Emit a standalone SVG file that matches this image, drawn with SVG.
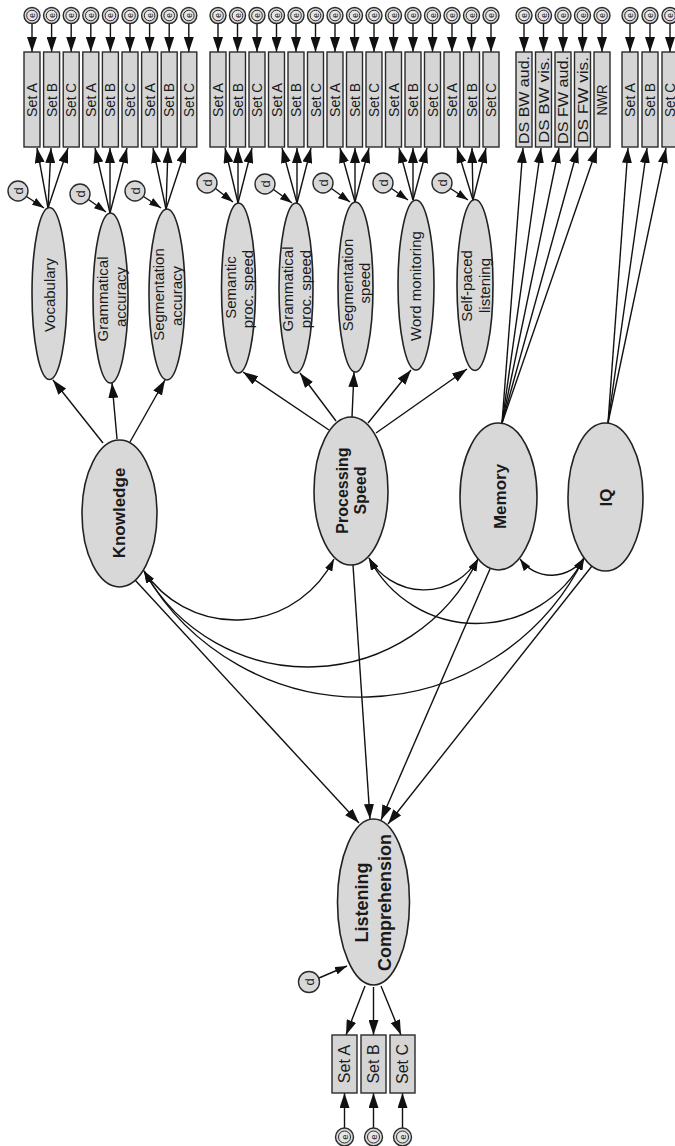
<svg xmlns="http://www.w3.org/2000/svg" width="675" height="1146" viewBox="0 0 675 1146">
<defs>
<style>
.obs{fill:#d5d5d5;stroke:#2a2a2a;stroke-width:1.4}
.lat{fill:#d8d8d8;stroke:#222;stroke-width:1.6}
.eo{fill:#d8d8d8;stroke:#2a2a2a;stroke-width:1.4}
.ei{fill:#e6e6e6;stroke:#2a2a2a;stroke-width:1}
.t{font-family:"Liberation Sans",Arial,sans-serif;fill:#1a1a1a;text-anchor:middle;dominant-baseline:central}
.s{font-size:14.5px}
.m{font-size:15px}
.b{font-weight:bold}
.ln{stroke:#111;stroke-width:1.4;fill:none}
.big{marker-end:url(#ah)}
.sm{marker-end:url(#as)}
.bi{marker-start:url(#as);marker-end:url(#as)}
</style>
<marker id="ah" viewBox="0 0 15 10" refX="15" refY="5" markerWidth="15" markerHeight="10" markerUnits="userSpaceOnUse" orient="auto"><path d="M0,0 L15,5 L0,10 z" fill="#111"/></marker>
<marker id="as" viewBox="0 0 12 8" refX="12" refY="4" markerWidth="12" markerHeight="8" markerUnits="userSpaceOnUse" orient="auto-start-reverse"><path d="M0,0 L12,4 L0,8 z" fill="#111"/></marker>
</defs>
<rect width="675" height="1146" fill="#fff"/>

<!-- connectors -->
<g id="connectors">
<!-- error terms into top indicators -->
<g class="ln big">
<line x1="32" y1="23.5" x2="32" y2="52"/><line x1="51.6" y1="23.5" x2="51.6" y2="52"/><line x1="71.2" y1="23.5" x2="71.2" y2="52"/>
<line x1="90.8" y1="23.5" x2="90.8" y2="52"/><line x1="110.4" y1="23.5" x2="110.4" y2="52"/><line x1="130" y1="23.5" x2="130" y2="52"/>
<line x1="149.6" y1="23.5" x2="149.6" y2="52"/><line x1="169.2" y1="23.5" x2="169.2" y2="52"/><line x1="188.8" y1="23.5" x2="188.8" y2="52"/>
<line x1="218" y1="23.5" x2="218" y2="52"/><line x1="237.5" y1="23.5" x2="237.5" y2="52"/><line x1="257" y1="23.5" x2="257" y2="52"/>
<line x1="276.5" y1="23.5" x2="276.5" y2="52"/><line x1="296" y1="23.5" x2="296" y2="52"/><line x1="315.5" y1="23.5" x2="315.5" y2="52"/>
<line x1="335" y1="23.5" x2="335" y2="52"/><line x1="354.5" y1="23.5" x2="354.5" y2="52"/><line x1="374" y1="23.5" x2="374" y2="52"/>
<line x1="393.5" y1="23.5" x2="393.5" y2="52"/><line x1="413" y1="23.5" x2="413" y2="52"/><line x1="432.5" y1="23.5" x2="432.5" y2="52"/>
<line x1="452" y1="23.5" x2="452" y2="52"/><line x1="471.5" y1="23.5" x2="471.5" y2="52"/><line x1="491" y1="23.5" x2="491" y2="52"/>
<line x1="524" y1="23.5" x2="524" y2="52"/><line x1="543.5" y1="23.5" x2="543.5" y2="52"/><line x1="563" y1="23.5" x2="563" y2="52"/>
<line x1="582.5" y1="23.5" x2="582.5" y2="52"/><line x1="602" y1="23.5" x2="602" y2="52"/>
<line x1="630" y1="23.5" x2="630" y2="52"/><line x1="650" y1="23.5" x2="650" y2="52"/><line x1="670" y1="23.5" x2="670" y2="52"/>
</g>
<!-- first-order factors to indicators -->
<g class="ln big">
<line x1="48" y1="208" x2="37" y2="148"/><line x1="48" y1="208" x2="51" y2="148"/><line x1="48" y1="208" x2="68" y2="148"/>
<line x1="110" y1="213" x2="95" y2="148"/><line x1="110" y1="213" x2="110" y2="148"/><line x1="110" y1="213" x2="127" y2="148"/>
<line x1="166" y1="209" x2="153" y2="148"/><line x1="166" y1="209" x2="168" y2="148"/><line x1="166" y1="209" x2="186" y2="148"/>
<line x1="238" y1="203" x2="225" y2="148"/><line x1="238" y1="203" x2="238" y2="148"/><line x1="238" y1="203" x2="252" y2="148"/>
<line x1="297" y1="203" x2="282" y2="148"/><line x1="297" y1="203" x2="297" y2="148"/><line x1="297" y1="203" x2="311" y2="148"/>
<line x1="355" y1="202" x2="340" y2="148"/><line x1="355" y1="202" x2="355" y2="148"/><line x1="355" y1="202" x2="369" y2="148"/>
<line x1="413" y1="200" x2="399" y2="148"/><line x1="413" y1="200" x2="413" y2="148"/><line x1="413" y1="200" x2="427" y2="148"/>
<line x1="473" y1="200" x2="457" y2="148"/><line x1="473" y1="200" x2="472" y2="148"/><line x1="473" y1="200" x2="486" y2="148"/>
<line x1="502" y1="423" x2="523" y2="148"/><line x1="502" y1="423" x2="541" y2="148"/><line x1="502" y1="423" x2="559" y2="148"/>
<line x1="502" y1="423" x2="578" y2="148"/><line x1="502" y1="423" x2="597" y2="148"/>
<line x1="608" y1="423" x2="628" y2="148"/><line x1="608" y1="423" x2="647" y2="148"/><line x1="608" y1="423" x2="666" y2="148"/>
</g>
<!-- disturbances -->
<g class="ln sm">
<line x1="26.5" y1="196.5" x2="44" y2="208"/>
<line x1="88.5" y1="199.5" x2="106" y2="212"/>
<line x1="143.5" y1="196.5" x2="161" y2="208"/>
<line x1="215.5" y1="188.5" x2="233" y2="202"/>
<line x1="273.5" y1="189.5" x2="292" y2="203"/>
<line x1="331.5" y1="188.5" x2="350" y2="202"/>
<line x1="391.5" y1="188.5" x2="408" y2="200"/>
<line x1="450.5" y1="188.5" x2="468" y2="200"/>
<line x1="319" y1="978" x2="347" y2="966"/>
</g>
<!-- second-order loadings -->
<g class="ln big">
<line x1="103" y1="443" x2="53" y2="380"/>
<line x1="117" y1="439" x2="112" y2="383"/>
<line x1="130" y1="442" x2="165" y2="380"/>
<line x1="329" y1="430" x2="243" y2="372"/>
<line x1="336" y1="421" x2="300" y2="373"/>
<line x1="352" y1="417" x2="354" y2="372"/>
<line x1="368" y1="423" x2="411" y2="370"/>
<line x1="376" y1="433" x2="467" y2="369"/>
</g>
<!-- covariances -->
<g class="ln bi">
<path d="M144,571 A110,110 0 0 0 334,559"/>
<path d="M144,571 A188,188 0 0 0 478,559"/>
<path d="M144,571 A249,249 0 0 0 584,558"/>
<path d="M369,558 A63,63 0 0 0 478,559"/>
<path d="M369,558 A121,121 0 0 0 584,558"/>
<path d="M520,559 A39,39 0 0 0 584,558"/>
</g>
<!-- predictors of listening comprehension -->
<g class="ln big">
<line x1="135" y1="580" x2="359" y2="823"/>
<line x1="353" y1="565" x2="370" y2="819"/>
<line x1="490" y1="569" x2="381" y2="820"/>
<line x1="592" y1="566" x2="388" y2="824"/>
<line x1="365" y1="986" x2="346" y2="1035"/>
<line x1="373.5" y1="987" x2="373.5" y2="1035"/>
<line x1="381" y1="986" x2="401" y2="1035"/>
<line x1="344.5" y1="1128" x2="344.5" y2="1093"/>
<line x1="373.5" y1="1128" x2="373.5" y2="1093"/>
<line x1="402.5" y1="1128" x2="402.5" y2="1093"/>
</g>
</g>

<!-- observed indicators, top row -->
<g id="vocab-a"><rect class="obs" x="24" y="52" width="16" height="95"/><text class="t s" transform="translate(32,100) rotate(-90)" textLength="34" lengthAdjust="spacingAndGlyphs">Set A</text></g>
<g id="vocab-b"><rect class="obs" x="43.6" y="52" width="16" height="95"/><text class="t s" transform="translate(51.6,100) rotate(-90)" textLength="34" lengthAdjust="spacingAndGlyphs">Set B</text></g>
<g id="vocab-c"><rect class="obs" x="63.2" y="52" width="16" height="95"/><text class="t s" transform="translate(71.2,100) rotate(-90)" textLength="34" lengthAdjust="spacingAndGlyphs">Set C</text></g>
<g id="gram-a"><rect class="obs" x="82.8" y="52" width="16" height="95"/><text class="t s" transform="translate(90.8,100) rotate(-90)" textLength="34" lengthAdjust="spacingAndGlyphs">Set A</text></g>
<g id="gram-b"><rect class="obs" x="102.4" y="52" width="16" height="95"/><text class="t s" transform="translate(110.4,100) rotate(-90)" textLength="34" lengthAdjust="spacingAndGlyphs">Set B</text></g>
<g id="gram-c"><rect class="obs" x="122" y="52" width="16" height="95"/><text class="t s" transform="translate(130,100) rotate(-90)" textLength="34" lengthAdjust="spacingAndGlyphs">Set C</text></g>
<g id="segacc-a"><rect class="obs" x="141.6" y="52" width="16" height="95"/><text class="t s" transform="translate(149.6,100) rotate(-90)" textLength="34" lengthAdjust="spacingAndGlyphs">Set A</text></g>
<g id="segacc-b"><rect class="obs" x="161.2" y="52" width="16" height="95"/><text class="t s" transform="translate(169.2,100) rotate(-90)" textLength="34" lengthAdjust="spacingAndGlyphs">Set B</text></g>
<g id="segacc-c"><rect class="obs" x="180.8" y="52" width="16" height="95"/><text class="t s" transform="translate(188.8,100) rotate(-90)" textLength="34" lengthAdjust="spacingAndGlyphs">Set C</text></g>

<g id="sem-a"><rect class="obs" x="210" y="52" width="16" height="95"/><text class="t s" transform="translate(218,100) rotate(-90)" textLength="34" lengthAdjust="spacingAndGlyphs">Set A</text></g>
<g id="sem-b"><rect class="obs" x="229.5" y="52" width="16" height="95"/><text class="t s" transform="translate(237.5,100) rotate(-90)" textLength="34" lengthAdjust="spacingAndGlyphs">Set B</text></g>
<g id="sem-c"><rect class="obs" x="249" y="52" width="16" height="95"/><text class="t s" transform="translate(257,100) rotate(-90)" textLength="34" lengthAdjust="spacingAndGlyphs">Set C</text></g>
<g id="gps-a"><rect class="obs" x="268.5" y="52" width="16" height="95"/><text class="t s" transform="translate(276.5,100) rotate(-90)" textLength="34" lengthAdjust="spacingAndGlyphs">Set A</text></g>
<g id="gps-b"><rect class="obs" x="288" y="52" width="16" height="95"/><text class="t s" transform="translate(296,100) rotate(-90)" textLength="34" lengthAdjust="spacingAndGlyphs">Set B</text></g>
<g id="gps-c"><rect class="obs" x="307.5" y="52" width="16" height="95"/><text class="t s" transform="translate(315.5,100) rotate(-90)" textLength="34" lengthAdjust="spacingAndGlyphs">Set C</text></g>
<g id="segsp-a"><rect class="obs" x="327" y="52" width="16" height="95"/><text class="t s" transform="translate(335,100) rotate(-90)" textLength="34" lengthAdjust="spacingAndGlyphs">Set A</text></g>
<g id="segsp-b"><rect class="obs" x="346.5" y="52" width="16" height="95"/><text class="t s" transform="translate(354.5,100) rotate(-90)" textLength="34" lengthAdjust="spacingAndGlyphs">Set B</text></g>
<g id="segsp-c"><rect class="obs" x="366" y="52" width="16" height="95"/><text class="t s" transform="translate(374,100) rotate(-90)" textLength="34" lengthAdjust="spacingAndGlyphs">Set C</text></g>
<g id="word-a"><rect class="obs" x="385.5" y="52" width="16" height="95"/><text class="t s" transform="translate(393.5,100) rotate(-90)" textLength="34" lengthAdjust="spacingAndGlyphs">Set A</text></g>
<g id="word-b"><rect class="obs" x="405" y="52" width="16" height="95"/><text class="t s" transform="translate(413,100) rotate(-90)" textLength="34" lengthAdjust="spacingAndGlyphs">Set B</text></g>
<g id="word-c"><rect class="obs" x="424.5" y="52" width="16" height="95"/><text class="t s" transform="translate(432.5,100) rotate(-90)" textLength="34" lengthAdjust="spacingAndGlyphs">Set C</text></g>
<g id="spl-a"><rect class="obs" x="444" y="52" width="16" height="95"/><text class="t s" transform="translate(452,100) rotate(-90)" textLength="34" lengthAdjust="spacingAndGlyphs">Set A</text></g>
<g id="spl-b"><rect class="obs" x="463.5" y="52" width="16" height="95"/><text class="t s" transform="translate(471.5,100) rotate(-90)" textLength="34" lengthAdjust="spacingAndGlyphs">Set B</text></g>
<g id="spl-c"><rect class="obs" x="483" y="52" width="16" height="95"/><text class="t s" transform="translate(491,100) rotate(-90)" textLength="34" lengthAdjust="spacingAndGlyphs">Set C</text></g>

<g id="ds-bw-aud"><rect class="obs" x="516" y="52" width="16" height="95"/><text class="t s" transform="translate(524,100) rotate(-90)" textLength="88" lengthAdjust="spacingAndGlyphs">DS BW aud.</text></g>
<g id="ds-bw-vis"><rect class="obs" x="535.5" y="52" width="16" height="95"/><text class="t s" transform="translate(543.5,100) rotate(-90)" textLength="86" lengthAdjust="spacingAndGlyphs">DS BW vis.</text></g>
<g id="ds-fw-aud"><rect class="obs" x="555" y="52" width="16" height="95"/><text class="t s" transform="translate(563,100) rotate(-90)" textLength="88" lengthAdjust="spacingAndGlyphs">DS FW aud.</text></g>
<g id="ds-fw-vis"><rect class="obs" x="574.5" y="52" width="16" height="95"/><text class="t s" transform="translate(582.5,100) rotate(-90)" textLength="86" lengthAdjust="spacingAndGlyphs">DS FW vis.</text></g>
<g id="nwr"><rect class="obs" x="594" y="52" width="16" height="95"/><text class="t s" transform="translate(602,100) rotate(-90)" textLength="31" lengthAdjust="spacingAndGlyphs">NWR</text></g>

<g id="iq-a"><rect class="obs" x="622" y="52" width="16" height="95"/><text class="t s" transform="translate(630,100) rotate(-90)" textLength="34" lengthAdjust="spacingAndGlyphs">Set A</text></g>
<g id="iq-b"><rect class="obs" x="642" y="52" width="16" height="95"/><text class="t s" transform="translate(650,100) rotate(-90)" textLength="34" lengthAdjust="spacingAndGlyphs">Set B</text></g>
<g id="iq-c"><rect class="obs" x="662" y="52" width="16" height="95"/><text class="t s" transform="translate(669.5,100) rotate(-90)" textLength="34" lengthAdjust="spacingAndGlyphs">Set C</text></g>

<!-- measurement errors, top row -->
<g id="errors-top">
<g id="e1"><circle class="eo" cx="32" cy="15.5" r="8"/><circle class="ei" cx="32" cy="15.5" r="5.3"/><text class="t" font-size="8.5" transform="translate(32,15.5) rotate(-90)">e</text></g>
<g id="e2"><circle class="eo" cx="51.6" cy="15.5" r="8"/><circle class="ei" cx="51.6" cy="15.5" r="5.3"/><text class="t" font-size="8.5" transform="translate(51.6,15.5) rotate(-90)">e</text></g>
<g id="e3"><circle class="eo" cx="71.2" cy="15.5" r="8"/><circle class="ei" cx="71.2" cy="15.5" r="5.3"/><text class="t" font-size="8.5" transform="translate(71.2,15.5) rotate(-90)">e</text></g>
<g id="e4"><circle class="eo" cx="90.8" cy="15.5" r="8"/><circle class="ei" cx="90.8" cy="15.5" r="5.3"/><text class="t" font-size="8.5" transform="translate(90.8,15.5) rotate(-90)">e</text></g>
<g id="e5"><circle class="eo" cx="110.4" cy="15.5" r="8"/><circle class="ei" cx="110.4" cy="15.5" r="5.3"/><text class="t" font-size="8.5" transform="translate(110.4,15.5) rotate(-90)">e</text></g>
<g id="e6"><circle class="eo" cx="130" cy="15.5" r="8"/><circle class="ei" cx="130" cy="15.5" r="5.3"/><text class="t" font-size="8.5" transform="translate(130,15.5) rotate(-90)">e</text></g>
<g id="e7"><circle class="eo" cx="149.6" cy="15.5" r="8"/><circle class="ei" cx="149.6" cy="15.5" r="5.3"/><text class="t" font-size="8.5" transform="translate(149.6,15.5) rotate(-90)">e</text></g>
<g id="e8"><circle class="eo" cx="169.2" cy="15.5" r="8"/><circle class="ei" cx="169.2" cy="15.5" r="5.3"/><text class="t" font-size="8.5" transform="translate(169.2,15.5) rotate(-90)">e</text></g>
<g id="e9"><circle class="eo" cx="188.8" cy="15.5" r="8"/><circle class="ei" cx="188.8" cy="15.5" r="5.3"/><text class="t" font-size="8.5" transform="translate(188.8,15.5) rotate(-90)">e</text></g>
<g id="e10"><circle class="eo" cx="218" cy="15.5" r="8"/><circle class="ei" cx="218" cy="15.5" r="5.3"/><text class="t" font-size="8.5" transform="translate(218,15.5) rotate(-90)">e</text></g>
<g id="e11"><circle class="eo" cx="237.5" cy="15.5" r="8"/><circle class="ei" cx="237.5" cy="15.5" r="5.3"/><text class="t" font-size="8.5" transform="translate(237.5,15.5) rotate(-90)">e</text></g>
<g id="e12"><circle class="eo" cx="257" cy="15.5" r="8"/><circle class="ei" cx="257" cy="15.5" r="5.3"/><text class="t" font-size="8.5" transform="translate(257,15.5) rotate(-90)">e</text></g>
<g id="e13"><circle class="eo" cx="276.5" cy="15.5" r="8"/><circle class="ei" cx="276.5" cy="15.5" r="5.3"/><text class="t" font-size="8.5" transform="translate(276.5,15.5) rotate(-90)">e</text></g>
<g id="e14"><circle class="eo" cx="296" cy="15.5" r="8"/><circle class="ei" cx="296" cy="15.5" r="5.3"/><text class="t" font-size="8.5" transform="translate(296,15.5) rotate(-90)">e</text></g>
<g id="e15"><circle class="eo" cx="315.5" cy="15.5" r="8"/><circle class="ei" cx="315.5" cy="15.5" r="5.3"/><text class="t" font-size="8.5" transform="translate(315.5,15.5) rotate(-90)">e</text></g>
<g id="e16"><circle class="eo" cx="335" cy="15.5" r="8"/><circle class="ei" cx="335" cy="15.5" r="5.3"/><text class="t" font-size="8.5" transform="translate(335,15.5) rotate(-90)">e</text></g>
<g id="e17"><circle class="eo" cx="354.5" cy="15.5" r="8"/><circle class="ei" cx="354.5" cy="15.5" r="5.3"/><text class="t" font-size="8.5" transform="translate(354.5,15.5) rotate(-90)">e</text></g>
<g id="e18"><circle class="eo" cx="374" cy="15.5" r="8"/><circle class="ei" cx="374" cy="15.5" r="5.3"/><text class="t" font-size="8.5" transform="translate(374,15.5) rotate(-90)">e</text></g>
<g id="e19"><circle class="eo" cx="393.5" cy="15.5" r="8"/><circle class="ei" cx="393.5" cy="15.5" r="5.3"/><text class="t" font-size="8.5" transform="translate(393.5,15.5) rotate(-90)">e</text></g>
<g id="e20"><circle class="eo" cx="413" cy="15.5" r="8"/><circle class="ei" cx="413" cy="15.5" r="5.3"/><text class="t" font-size="8.5" transform="translate(413,15.5) rotate(-90)">e</text></g>
<g id="e21"><circle class="eo" cx="432.5" cy="15.5" r="8"/><circle class="ei" cx="432.5" cy="15.5" r="5.3"/><text class="t" font-size="8.5" transform="translate(432.5,15.5) rotate(-90)">e</text></g>
<g id="e22"><circle class="eo" cx="452" cy="15.5" r="8"/><circle class="ei" cx="452" cy="15.5" r="5.3"/><text class="t" font-size="8.5" transform="translate(452,15.5) rotate(-90)">e</text></g>
<g id="e23"><circle class="eo" cx="471.5" cy="15.5" r="8"/><circle class="ei" cx="471.5" cy="15.5" r="5.3"/><text class="t" font-size="8.5" transform="translate(471.5,15.5) rotate(-90)">e</text></g>
<g id="e24"><circle class="eo" cx="491" cy="15.5" r="8"/><circle class="ei" cx="491" cy="15.5" r="5.3"/><text class="t" font-size="8.5" transform="translate(491,15.5) rotate(-90)">e</text></g>
<g id="e25"><circle class="eo" cx="524" cy="15.5" r="8"/><circle class="ei" cx="524" cy="15.5" r="5.3"/><text class="t" font-size="8.5" transform="translate(524,15.5) rotate(-90)">e</text></g>
<g id="e26"><circle class="eo" cx="543.5" cy="15.5" r="8"/><circle class="ei" cx="543.5" cy="15.5" r="5.3"/><text class="t" font-size="8.5" transform="translate(543.5,15.5) rotate(-90)">e</text></g>
<g id="e27"><circle class="eo" cx="563" cy="15.5" r="8"/><circle class="ei" cx="563" cy="15.5" r="5.3"/><text class="t" font-size="8.5" transform="translate(563,15.5) rotate(-90)">e</text></g>
<g id="e28"><circle class="eo" cx="582.5" cy="15.5" r="8"/><circle class="ei" cx="582.5" cy="15.5" r="5.3"/><text class="t" font-size="8.5" transform="translate(582.5,15.5) rotate(-90)">e</text></g>
<g id="e29"><circle class="eo" cx="602" cy="15.5" r="8"/><circle class="ei" cx="602" cy="15.5" r="5.3"/><text class="t" font-size="8.5" transform="translate(602,15.5) rotate(-90)">e</text></g>
<g id="e30"><circle class="eo" cx="630" cy="15.5" r="8"/><circle class="ei" cx="630" cy="15.5" r="5.3"/><text class="t" font-size="8.5" transform="translate(630,15.5) rotate(-90)">e</text></g>
<g id="e31"><circle class="eo" cx="650" cy="15.5" r="8"/><circle class="ei" cx="650" cy="15.5" r="5.3"/><text class="t" font-size="8.5" transform="translate(650,15.5) rotate(-90)">e</text></g>
<g id="e32"><circle class="eo" cx="670" cy="15.5" r="8"/><circle class="ei" cx="670" cy="15.5" r="5.3"/><text class="t" font-size="8.5" transform="translate(670,15.5) rotate(-90)">e</text></g>
</g>

<!-- first-order factors -->
<g id="vocabulary"><ellipse class="lat" cx="49.5" cy="293.5" rx="17.5" ry="86"/><text class="t m" transform="translate(49,295) rotate(-90)">Vocabulary</text></g>
<g id="grammatical-accuracy"><ellipse class="lat" cx="110.5" cy="298" rx="17.5" ry="85"/><text class="t m" transform="translate(102.5,299) rotate(-90)">Grammatical</text><text class="t m" transform="translate(120,297) rotate(-90)">accuracy</text></g>
<g id="segmentation-accuracy"><ellipse class="lat" cx="167" cy="294.5" rx="18" ry="85.5"/><text class="t m" transform="translate(158.5,294.5) rotate(-90)">Segmentation</text><text class="t m" transform="translate(176,296) rotate(-90)">accuracy</text></g>
<g id="semantic-speed"><ellipse class="lat" cx="238.5" cy="288" rx="17" ry="85"/><text class="t m" transform="translate(230,287.5) rotate(-90)">Semantic</text><text class="t m" transform="translate(247.5,289) rotate(-90)">proc. speed</text></g>
<g id="grammatical-speed"><ellipse class="lat" cx="296" cy="288" rx="17" ry="85"/><text class="t m" transform="translate(287.5,289) rotate(-90)">Grammatical</text><text class="t m" transform="translate(305,289) rotate(-90)">proc. speed</text></g>
<g id="segmentation-speed"><ellipse class="lat" cx="355.5" cy="287" rx="17.5" ry="85"/><text class="t m" transform="translate(347,285) rotate(-90)">Segmentation</text><text class="t m" transform="translate(364.5,283) rotate(-90)">speed</text></g>
<g id="word-monitoring"><ellipse class="lat" cx="416" cy="285" rx="18" ry="85"/><text class="t m" transform="translate(415,286) rotate(-90)">Word monitoring</text></g>
<g id="self-paced"><ellipse class="lat" cx="475" cy="285" rx="18" ry="85.5"/><text class="t m" transform="translate(466.5,286) rotate(-90)">Self-paced</text><text class="t m" transform="translate(484,285.5) rotate(-90)">listening</text></g>

<!-- disturbances -->
<g id="d-vocab"><circle class="eo" cx="18" cy="191" r="10"/><text class="t" font-size="13" transform="translate(18,191) rotate(-90)">d</text></g>
<g id="d-gram"><circle class="eo" cx="80" cy="194" r="10"/><text class="t" font-size="13" transform="translate(80,194) rotate(-90)">d</text></g>
<g id="d-segacc"><circle class="eo" cx="135" cy="191" r="10"/><text class="t" font-size="13" transform="translate(135,191) rotate(-90)">d</text></g>
<g id="d-sem"><circle class="eo" cx="207" cy="183" r="10"/><text class="t" font-size="13" transform="translate(207,183) rotate(-90)">d</text></g>
<g id="d-gps"><circle class="eo" cx="265" cy="184" r="10"/><text class="t" font-size="13" transform="translate(265,184) rotate(-90)">d</text></g>
<g id="d-segsp"><circle class="eo" cx="323" cy="183" r="10"/><text class="t" font-size="13" transform="translate(323,183) rotate(-90)">d</text></g>
<g id="d-word"><circle class="eo" cx="383" cy="183" r="10"/><text class="t" font-size="13" transform="translate(383,183) rotate(-90)">d</text></g>
<g id="d-spl"><circle class="eo" cx="442" cy="183" r="10"/><text class="t" font-size="13" transform="translate(442,183) rotate(-90)">d</text></g>
<g id="d-lc"><circle class="eo" cx="309" cy="982" r="10.5"/><text class="t" font-size="13" transform="translate(309,982) rotate(-90)">d</text></g>

<!-- second-order factors -->
<g id="knowledge"><ellipse class="lat" cx="119.5" cy="513.5" rx="37.5" ry="73.5"/><text class="t b" font-size="17" transform="translate(119.5,513) rotate(-90)">Knowledge</text></g>
<g id="processing-speed"><ellipse class="lat" cx="351" cy="491" rx="37" ry="74"/><text class="t b" font-size="16" transform="translate(342.5,490.5) rotate(-90)">Processing</text><text class="t b" font-size="16" transform="translate(360.5,490.5) rotate(-90)">Speed</text></g>
<g id="memory"><ellipse class="lat" cx="498.5" cy="496.5" rx="38.5" ry="73.5"/><text class="t b" font-size="17" transform="translate(500,496.5) rotate(-90)">Memory</text></g>
<g id="iq"><ellipse class="lat" cx="605.5" cy="497" rx="37.5" ry="74"/><text class="t b" font-size="17" transform="translate(606,497.5) rotate(-90)">IQ</text></g>
<g id="listening-comprehension"><ellipse class="lat" cx="373.5" cy="902" rx="36" ry="83"/><text class="t b" font-size="18" transform="translate(362,902.5) rotate(-90)">Listening</text><text class="t b" font-size="18" transform="translate(384.5,902.5) rotate(-90)">Comprehension</text></g>

<!-- listening comprehension indicators -->
<g id="lc-a"><rect class="obs" x="332" y="1035" width="25" height="58"/><text class="t" font-size="16" transform="translate(344.5,1064) rotate(-90)">Set A</text></g>
<g id="lc-b"><rect class="obs" x="361" y="1035" width="25" height="58"/><text class="t" font-size="16" transform="translate(373.5,1064) rotate(-90)">Set B</text></g>
<g id="lc-c"><rect class="obs" x="390" y="1035" width="25" height="58"/><text class="t" font-size="16" transform="translate(402.5,1064) rotate(-90)">Set C</text></g>
<g id="e-lc-a"><circle class="eo" cx="344.5" cy="1137" r="9"/><circle class="ei" cx="344.5" cy="1137" r="6"/><text class="t" font-size="9.5" transform="translate(344.5,1137) rotate(-90)">e</text></g>
<g id="e-lc-b"><circle class="eo" cx="373.5" cy="1137" r="9"/><circle class="ei" cx="373.5" cy="1137" r="6"/><text class="t" font-size="9.5" transform="translate(373.5,1137) rotate(-90)">e</text></g>
<g id="e-lc-c"><circle class="eo" cx="402.5" cy="1137" r="9"/><circle class="ei" cx="402.5" cy="1137" r="6"/><text class="t" font-size="9.5" transform="translate(402.5,1137) rotate(-90)">e</text></g>
</svg>
